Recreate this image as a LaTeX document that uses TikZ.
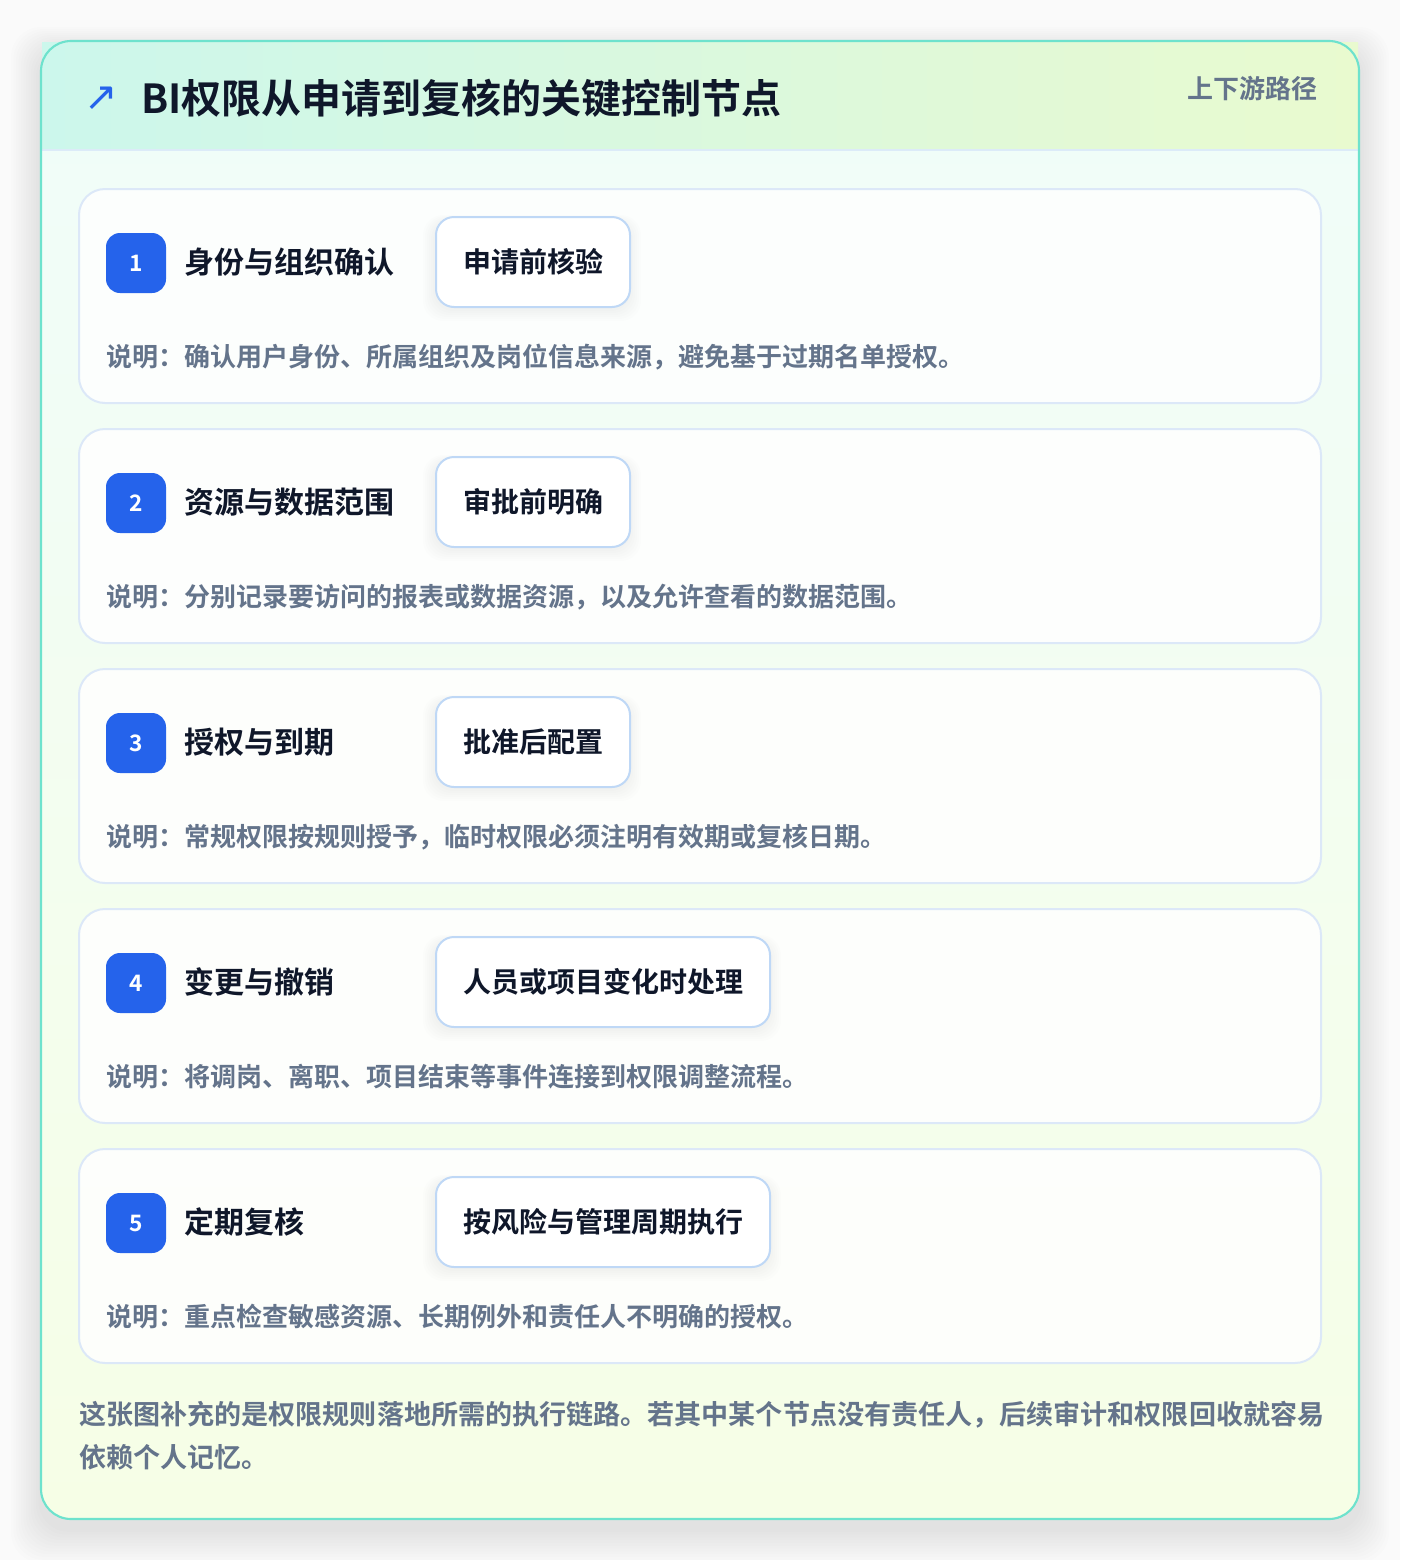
\documentclass[tikz,border=0pt]{standalone}
\usepackage{fontspec}
\setmainfont{Noto Sans CJK SC}[BoldFont={Noto Sans CJK SC Bold}]
\newfontfamily\symfont{DejaVu Sans}
\definecolor{pagebg}{HTML}{FAFAFA}
\definecolor{frameline}{HTML}{6EE2CD}
\definecolor{headL}{HTML}{CCF7EC}
\definecolor{headR}{HTML}{E9FACF}
\definecolor{bodyT}{HTML}{F0FDFA}
\definecolor{bodyB}{HTML}{F6FEE6}
\definecolor{headline}{HTML}{DCEBF8}
\definecolor{cardline}{HTML}{DCE8F8}
\definecolor{tagline}{HTML}{BFD8F6}
\definecolor{badgeblue}{HTML}{2563EB}
\definecolor{ink}{HTML}{0F172A}
\definecolor{muted}{HTML}{64748B}
\tikzset{
  card/.style={draw=cardline, line width=1.5pt, fill=white, fill opacity=0.85, draw opacity=1, rounded corners=19.5pt},
  badge/.style={fill=badgeblue, rounded corners=10.5pt, minimum width=45pt, minimum height=45pt, inner sep=0pt, text=white, font=\bfseries\fontsize{17pt}{18pt}\selectfont},
  stitle/.style={anchor=west, inner sep=0pt, text=ink, font=\bfseries\fontsize{22.5pt}{26pt}\selectfont},
  tagbox/.style={draw=tagline, line width=1.5pt, fill=white, rounded corners=13.5pt, minimum height=67.5pt, inner xsep=20.25pt, inner ysep=0pt, text=ink, font=\bfseries\fontsize{21pt}{24pt}\selectfont},
  desc/.style={anchor=west, inner sep=0pt, text=muted, font=\bfseries\fontsize{19.5pt}{22pt}\selectfont},
}
\begin{document}
\begin{tikzpicture}[x=0.75pt,y=-0.75pt]
\useasboundingbox (0,0) rectangle (1400,1560);
\fill[pagebg] (0,0) rectangle (1400,1560);
% frame shadow
\foreach \k in {1,...,12}{
  \fill[black, opacity=0.008, rounded corners=30*0.75pt] ({41-2.5*\k},{51-2*\k}) rectangle ({1359+2.5*\k},{1529+2.8*\k});
}
% frame
\shade[top color=bodyT, bottom color=bodyB, rounded corners=22.5pt] (41,41) rectangle (1359,1519);
% header
\shade[left color=headL, right color=headR] (42,42) rectangle (1358,150);
\draw[headline, line width=1.5pt] (42,150) -- (1358,150);
\draw[frameline, line width=1.6pt, rounded corners=22.5pt] (41,41) rectangle (1359,1519);
\node[anchor=west, inner sep=0pt, text=badgeblue, font=\symfont\fontsize{30pt}{32pt}\selectfont] (icon) at (84,99) {↗};
\node[anchor=west, inner sep=0pt, text=ink, font=\bfseries\fontsize{30pt}{34pt}\selectfont] (title) at (141,98) {BI权限从申请到复核的关键控制节点};
\node[anchor=east, inner sep=0pt, text=muted, font=\bfseries\fontsize{19.5pt}{22pt}\selectfont] (route) at (1318,89) {上下游路径};
% cards
\foreach \i/\t/\g/\d/\w in {
 1/身份与组织确认/申请前核验/说明：确认用户身份、所属组织及岗位信息来源，避免基于过期名单授权。/629,
 2/资源与数据范围/审批前明确/说明：分别记录要访问的报表或数据资源，以及允许查看的数据范围。/629,
 3/授权与到期/批准后配置/说明：常规权限按规则授予，临时权限必须注明有效期或复核日期。/629,
 4/变更与撤销/人员或项目变化时处理/说明：将调岗、离职、项目结束等事件连接到权限调整流程。/769,
 5/定期复核/按风险与管理周期执行/说明：重点检查敏感资源、长期例外和责任人不明确的授权。/769}{
  \pgfmathsetmacro{\top}{189+240*(\i-1)}
  \draw[card] (79,\top) rectangle (1321,\top+214);
  \coordinate (card\i) at (79,\top);
  \node[badge] (badge\i) at (136,\top+74) {\i};
  \node[stitle] (stitle\i) at (184,\top+73) {\t};
  \foreach \s in {1,...,6}{
    \fill[black, opacity=0.006, rounded corners=15pt] (435-2*\s,\top+28-1*\s+4) rectangle (\w+2*\s,\top+118+2*\s+2);
  }
  \node[tagbox, anchor=west] (tag\i) at (435,\top+73) {\g};
  \node[desc] (desc\i) at (106,\top+168) {\d};
}
\node[anchor=north west, inner sep=0pt, align=left, text=muted, font=\bfseries\fontsize{20.3pt}{32pt}\selectfont] (note) at (79,1401) {这张图补充的是权限规则落地所需的执行链路。若其中某个节点没有责任人，后续审计和权限回收就容易\\依赖个人记忆。};
\end{tikzpicture}
\end{document}
